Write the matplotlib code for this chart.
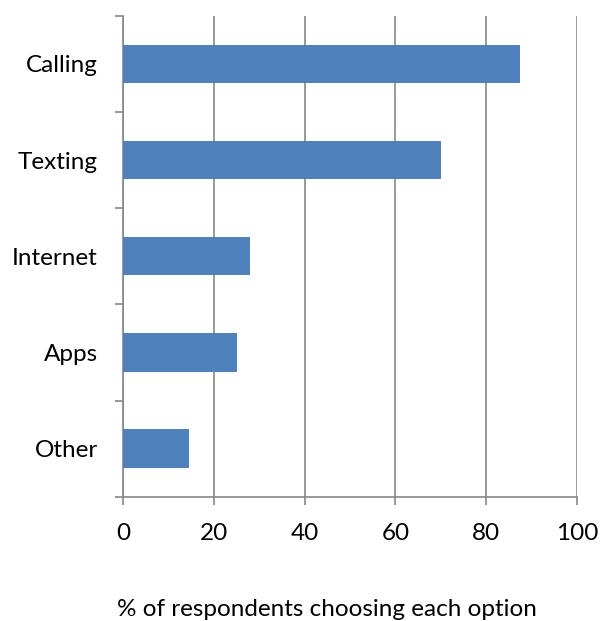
import matplotlib
matplotlib.use("Agg")
import matplotlib.pyplot as plt
import numpy as np

categories = ["Calling", "Texting", "Internet", "Apps", "Other"]
values = [87.5, 70, 28, 25, 14.5]
x_ticks = [0, 20, 40, 60, 80, 100]

plt.rcParams["font.family"] = ["Lato", "DejaVu Sans"]

fig = plt.figure(figsize=(6.0, 6.21), dpi=100)
ax = fig.add_axes([0.205, 0.2, 0.7567, 0.7747])

n = len(categories)
pos = np.arange(n)[::-1]
ax.barh(pos, values, height=0.4, color="#4F81BD", zorder=3)

ax.set_xlim(0, 100)
ax.set_ylim(-0.5, n - 0.5)

gray = "#888888"
ax.set_xticks(x_ticks)
ax.set_xticklabels([str(t) for t in x_ticks], fontsize=17.5)
ax.tick_params(axis="x", direction="out", length=6, width=1.2, color=gray, pad=13)
ax.grid(axis="x", color=gray, linewidth=1.2, zorder=1)

# category boundary ticks on the left axis, labels centred between them
ax.set_yticks(np.arange(-0.5, n, 1.0))
ax.set_yticklabels([])
ax.set_yticks(pos, minor=True)
ax.set_yticklabels(categories, minor=True, fontsize=17.5)
ax.tick_params(axis="y", which="major", direction="out", length=6, width=1.2, color=gray)
ax.tick_params(axis="y", which="minor", length=0, pad=18)

for side in ("top", "right"):
    ax.spines[side].set_visible(False)
for side in ("left", "bottom"):
    ax.spines[side].set_color(gray)
    ax.spines[side].set_linewidth(1.2)

ax.set_xlabel("% of respondents choosing each option", fontsize=17.5)
ax.xaxis.set_label_coords(0.45, -0.212, transform=ax.transAxes)
ax.xaxis.label.set_verticalalignment("top")

fig.savefig("out.png", dpi=100)
